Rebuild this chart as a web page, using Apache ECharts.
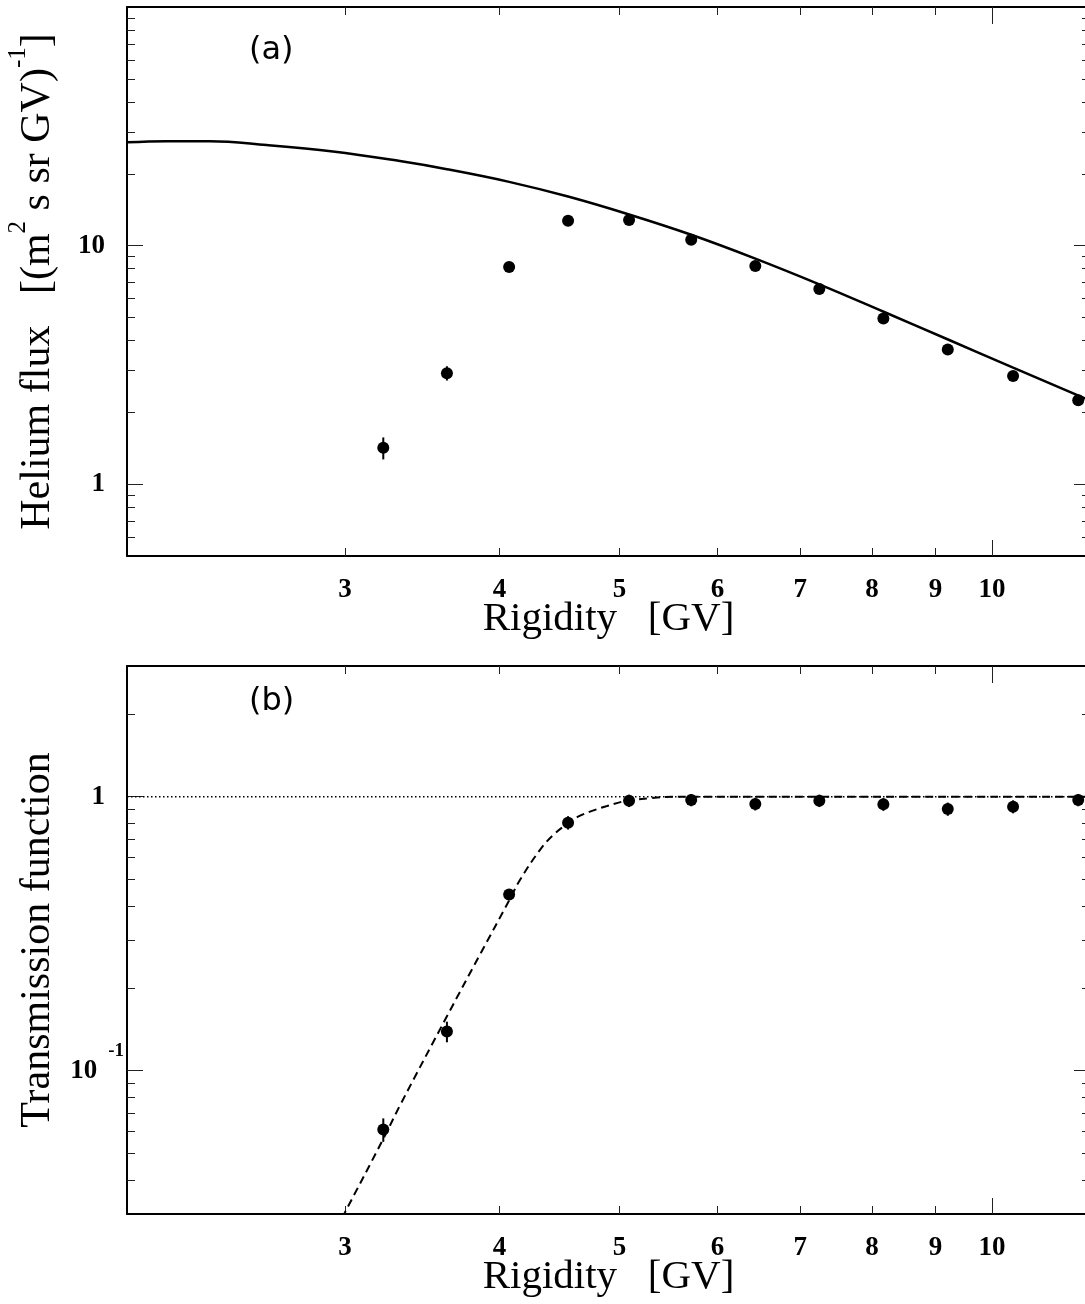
<!DOCTYPE html>
<html><head><meta charset="utf-8">
<script src="https://cdn.jsdelivr.net/npm/echarts@6/dist/echarts.min.js"></script>
<style>html,body{margin:0;padding:0;background:#fff;overflow:hidden}#c{width:1090px;height:1304px}</style>
</head><body><div id="c"></div>
<script>
// ---------- data ----------
const rigidity     = [3.222, 3.627, 4.072, 4.544, 5.09, 5.714, 6.438, 7.252, 8.17, 9.21, 10.40, 11.74];
const heliumFlux   = [1.42, 2.92, 8.14, 12.7, 12.8, 10.57, 8.22, 6.58, 4.95, 3.67, 2.84, 2.25];
const fluxErr      = [0.15, 0.20, 0.25, 0.3, 0.3, 0.25, 0.2, 0.15, 0.12, 0.09, 0.07, 0.06];
const transmission = [0.061, 0.139, 0.44, 0.804, 0.967, 0.973, 0.941, 0.967, 0.938, 0.902, 0.920, 0.973];
const transErr     = [0.006, 0.012, 0.02, 0.045, 0.05, 0.05, 0.05, 0.05, 0.05, 0.05, 0.05, 0.05];

const modelRigidity = [2.0, 2.152, 2.333, 2.593, 2.934, 3.323, 3.627, 4.072, 4.544, 5.09, 5.714, 6.438, 7.252, 8.174, 9.214, 10.40, 11.9, 12.0];
const modelFlux     = [27.1, 27.4, 27.4, 26.4, 24.8, 22.6, 20.9, 18.5, 16.05, 13.5, 11.1, 8.82, 6.88, 5.28, 4.04, 3.08, 2.285, 2.24];

const cutoffRigidity = [2.95, 3.0, 3.222, 3.323, 3.627, 3.858, 4.072, 4.156, 4.313, 4.42, 4.544, 4.63, 4.733, 4.885, 5.07, 5.29, 5.52, 12.0];
const cutoffTrans    = [0.0263, 0.0304, 0.0564, 0.0746, 0.158, 0.266, 0.418, 0.498, 0.64, 0.725, 0.80, 0.846, 0.882, 0.925, 0.967, 0.987, 1.0, 1.0];

const refRigidity = [2, 12];
const refTrans    = [1, 1];

const xTickLabels   = [3, 4, 5, 6, 7, 8, 9, 10];
const xMinorTicks   = [3, 4, 5, 6, 7, 8, 9];
const xMajorTicks   = [10];
const fluxLabels    = [1, 10];
const fluxMinor     = [0.6, 0.7, 0.8, 0.9, 2, 3, 4, 5, 6, 7, 8, 9, 20, 30, 40, 50, 60, 70, 80, 90];
const transLabels   = [0.1, 1];
const transMinor    = [0.04, 0.05, 0.06, 0.07, 0.08, 0.09, 0.2, 0.3, 0.4, 0.5, 0.6, 0.7, 0.8, 0.9, 2];

// ---------- styling ----------
const SERIF = '"Liberation Serif","Times New Roman",serif';
const TICK = {color: '#222', width: 1};

function xAxes(g) {
  const base = {gridIndex: g, type: 'log', logBase: 10, min: 2, max: 12,
    splitLine: {show: false}, minorTick: {show: false}, axisLabel: {show: false}};
  return [
    Object.assign({}, base, {position: 'bottom',
      axisLine: {show: true, onZero: false, lineStyle: {color: '#000', width: 2}},
      axisTick: {show: true, inside: true, length: 8, customValues: xMinorTicks, lineStyle: TICK},
      axisLabel: {show: true, customValues: xTickLabels, margin: 21, fontFamily: SERIF, fontWeight: 'bold',
        fontSize: 27, color: '#000', formatter: v => String(Math.round(v))},
      name: 'Rigidity   [GV]', nameLocation: 'middle', nameGap: 43, nameMoveOverlap: false,
      nameTextStyle: {fontFamily: SERIF, fontSize: 41, color: '#000'}}),
    Object.assign({}, base, {position: 'bottom', axisLine: {show: false},
      axisTick: {show: true, inside: true, length: 16, customValues: xMajorTicks, lineStyle: TICK}}),
    Object.assign({}, base, {position: 'top',
      axisLine: {show: true, onZero: false, lineStyle: {color: '#000', width: 2}},
      axisTick: {show: true, inside: true, length: 8, customValues: xMinorTicks, lineStyle: TICK}}),
    Object.assign({}, base, {position: 'top', axisLine: {show: false},
      axisTick: {show: true, inside: true, length: 17, customValues: xMajorTicks, lineStyle: TICK}})
  ];
}

const nameRich = {
  t: {fontFamily: SERIF, fontSize: 42, lineHeight: 64, color: '#000'},
  s: {fontFamily: SERIF, fontSize: 25, lineHeight: 25, verticalAlign: 'top', color: '#000'}
};

function yAxes(g, min, max, labels, minor, labelCfg, name) {
  const base = {gridIndex: g, type: 'log', logBase: 10, min: min, max: max,
    splitLine: {show: false}, minorTick: {show: false}, axisLabel: {show: false}};
  return [
    Object.assign({}, base, {position: 'left',
      axisLine: {show: true, onZero: false, lineStyle: {color: '#000', width: 2}},
      axisTick: {show: true, inside: true, length: 16, customValues: labels, lineStyle: TICK},
      axisLabel: Object.assign({show: true, customValues: labels}, labelCfg),
      name: name, nameLocation: 'middle', nameRotate: 90, nameGap: 57, nameMoveOverlap: false,
      nameTextStyle: {rich: nameRich}}),
    Object.assign({}, base, {position: 'left', axisLine: {show: false},
      axisTick: {show: true, inside: true, length: 8, customValues: minor, lineStyle: TICK}}),
    Object.assign({}, base, {position: 'right',
      axisLine: {show: true, onZero: false, lineStyle: {color: '#000', width: 2}},
      axisTick: {show: true, inside: true, length: 16, customValues: labels, lineStyle: TICK}}),
    Object.assign({}, base, {position: 'right', axisLine: {show: false},
      axisTick: {show: true, inside: true, length: 8, customValues: minor, lineStyle: TICK}})
  ];
}

const fluxLabelCfg = {margin: 22, fontFamily: SERIF, fontWeight: 'bold', fontSize: 27, color: '#000',
  formatter: v => String(Number(v.toPrecision(6)))};
const transLabelCfg = {margin: 3, color: '#000',
  formatter: v => (v < 0.5 ? '{b|10}{g| }{s|-1}' : '{b|1}{sp| }'),
  rich: {
    b: {fontFamily: SERIF, fontWeight: 'bold', fontSize: 27, lineHeight: 58, color: '#000'},
    s: {fontFamily: SERIF, fontWeight: 'bold', fontSize: 19, lineHeight: 19, verticalAlign: 'top', color: '#000'},
    g: {width: 11, fontSize: 10},
    sp: {width: 19, fontSize: 10}
  }};

function errorBars(xIdx, yIdx, xs, ys, errs) {
  return {
    type: 'custom', xAxisIndex: xIdx, yAxisIndex: yIdx, z: 3, silent: true,
    data: xs.map((x, i) => [x, ys[i] - errs[i], ys[i] + errs[i]]),
    encode: {x: 0, y: [1, 2]},
    renderItem: function (params, api) {
      const p1 = api.coord([api.value(0), api.value(1)]);
      const p2 = api.coord([api.value(0), api.value(2)]);
      return {type: 'line', shape: {x1: p1[0], y1: p1[1], x2: p2[0], y2: p2[1]},
        style: {stroke: '#000', lineWidth: 2}};
    }
  };
}

const option = {
  animation: false,
  backgroundColor: '#fff',
  title: [
    {text: '(a)', left: 249, top: 35, padding: 0,
      textStyle: {fontFamily: '"DejaVu Sans"', fontSize: 32, fontWeight: 'normal', color: '#000'}},
    {text: '(b)', left: 249, top: 686, padding: 0,
      textStyle: {fontFamily: '"DejaVu Sans"', fontSize: 32, fontWeight: 'normal', color: '#000'}}
  ],
  grid: [
    {left: 127, right: 0, top: 7, height: 549, outerBoundsMode: 'none'},
    {left: 127, right: 0, top: 666, height: 548, outerBoundsMode: 'none'}
  ],
  xAxis: xAxes(0).concat(xAxes(1)),
  yAxis: yAxes(0, 0.5, 100, fluxLabels, fluxMinor, fluxLabelCfg,
           '{t|Helium flux   [(m}{s|2}{t| s sr GV)}{s|-1}{t|]}')
    .concat(yAxes(1, 0.03, 3, transLabels, transMinor, transLabelCfg, '{t|Transmission function}')),
  series: [
    {type: 'line', xAxisIndex: 0, yAxisIndex: 0, smooth: 0.4, showSymbol: false, symbol: 'none',
      lineStyle: {color: '#000', width: 2.5}, z: 2,
      data: modelRigidity.map((r, i) => [r, modelFlux[i]])},
    errorBars(0, 0, rigidity, heliumFlux, fluxErr),
    {type: 'scatter', xAxisIndex: 0, yAxisIndex: 0, symbol: 'circle', symbolSize: 12, z: 4,
      itemStyle: {color: '#000', opacity: 1}, data: rigidity.map((r, i) => [r, heliumFlux[i]])},

    {type: 'line', xAxisIndex: 4, yAxisIndex: 4, showSymbol: false, symbol: 'none', z: 1,
      lineStyle: {color: '#000', width: 1.5, type: [1.5, 2.5]},
      data: refRigidity.map((r, i) => [r, refTrans[i]])},
    {type: 'line', xAxisIndex: 4, yAxisIndex: 4, smooth: 0.4, showSymbol: false, symbol: 'none', z: 2,
      lineStyle: {color: '#000', width: 2, type: [8, 5]},
      data: cutoffRigidity.map((r, i) => [r, cutoffTrans[i]])},
    errorBars(4, 4, rigidity, transmission, transErr),
    {type: 'scatter', xAxisIndex: 4, yAxisIndex: 4, symbol: 'circle', symbolSize: 12, z: 4,
      itemStyle: {color: '#000', opacity: 1}, data: rigidity.map((r, i) => [r, transmission[i]])}
  ]
};

const chart = echarts.init(document.getElementById('c'), null, {renderer: 'canvas'});
chart.setOption(option);
</script></body></html>
